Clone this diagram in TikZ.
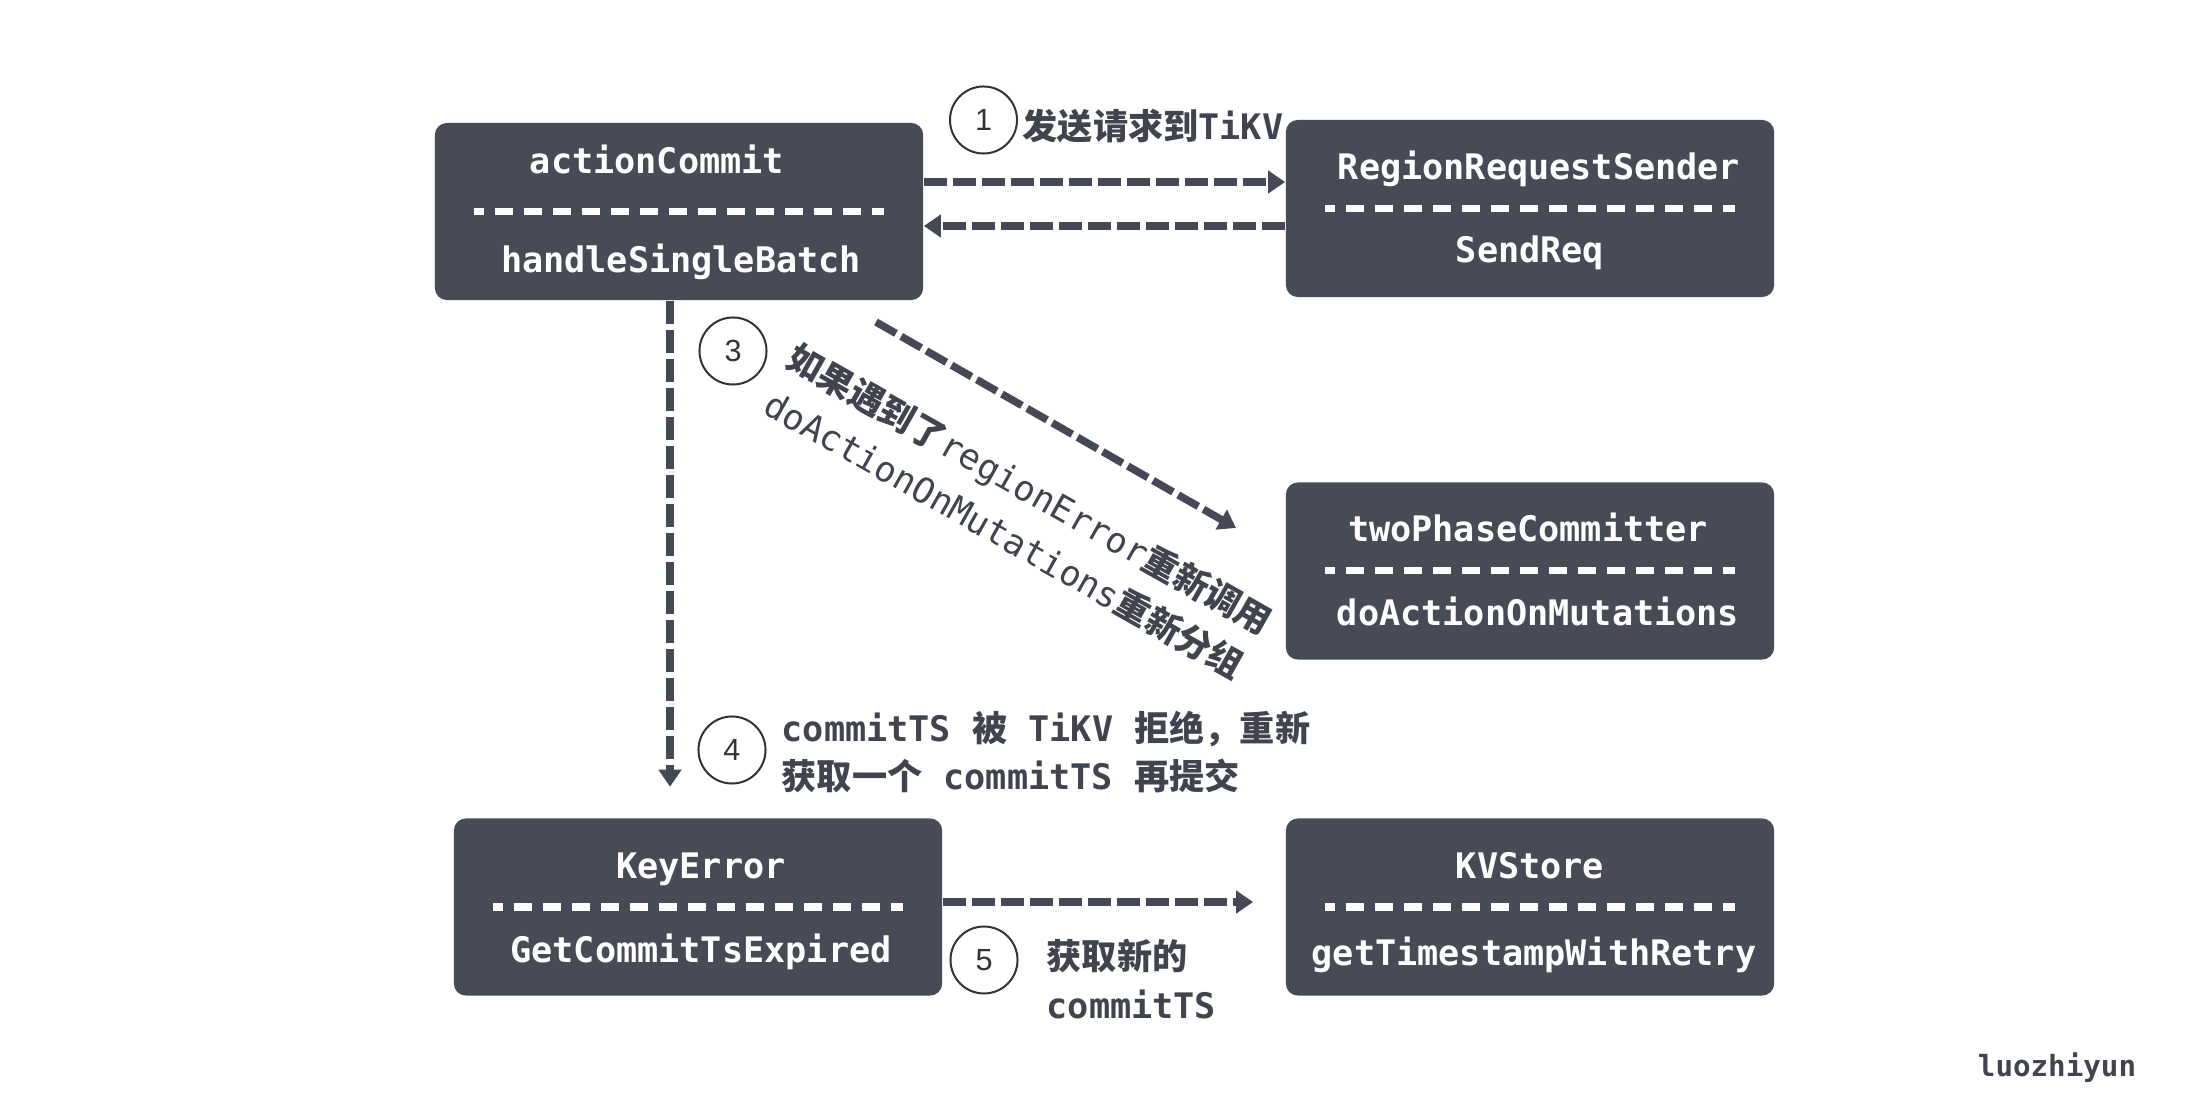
\documentclass[tikz,border=0pt]{standalone}
\usepackage{fontspec}
\usetikzlibrary{arrows.meta,calc}
\newfontfamily\mono{DejaVu Sans Mono}
\newfontfamily\cjk{Noto Sans CJK SC}
\newfontfamily\numfont{Liberation Sans}
\newcommand\zh[1]{{\cjk\bfseries #1}}
\definecolor{boxc}{HTML}{474B56}
\definecolor{arrc}{HTML}{454955}
\definecolor{txtc}{HTML}{40444E}
\definecolor{circc}{HTML}{333333}
\begin{document}
\begin{tikzpicture}[x=0.01cm,y=-0.01cm,
  box/.style={fill=boxc, rounded corners=0.12cm, minimum width=4.88cm, minimum height=1.77cm, inner sep=0pt},
  boxtxt/.style={text=white, font=\mono\bfseries\fontsize{10}{12}\selectfont, anchor=base, inner sep=0pt},
  sepline/.style={white, line width=0.07cm, dash pattern=on 0.18cm off 0.11cm, dash phase=0.08cm},
  arr/.style={arrc, line width=0.075cm, dash pattern=on 0.23cm off 0.06cm, -{Triangle[length=0.17cm,width=0.22cm]}},
  num/.style={circle, draw=circc, line width=0.02cm, minimum size=0.67cm, inner sep=0pt, font=\numfont\fontsize{8.7}{10}\selectfont, text=circc},
  lbl/.style={text=txtc, inner sep=0pt, font=\mono\bfseries\fontsize{10}{13.9}\selectfont}
]
\fill[white] (0,0) rectangle (2187,1113);
\useasboundingbox (0,0) rectangle (2187,1113);

% boxes
\node[box] (ac) at (679,211.5) {};
\node[box] (rr) at (1530,208.5) {};
\node[box] (tp) at (1530,571) {};
\node[box] (ke) at (698,907) {};
\node[box] (kv) at (1530,907) {};

% separators
\foreach \b in {ac,rr,tp,ke,kv}
  \draw[sepline] ($(\b.west)+(40,0)$) -- ($(\b.east)+(-40,0)$);

% box texts
\node[boxtxt] (ac1) at (657,174) {actionCommit};
\node[boxtxt] (ac2) at (681,273) {handleSingleBatch};
\node[boxtxt] (rr1) at (1539,180) {RegionRequestSender};
\node[boxtxt] (rr2) at (1530,263) {SendReq};
\node[boxtxt] (tp1) at (1528,542) {twoPhaseCommitter};
\node[boxtxt] (tp2) at (1538,626) {doActionOnMutations};
\node[boxtxt] (ke1) at (701,879) {KeyError};
\node[boxtxt] (ke2) at (701,962) {GetCommitTsExpired};
\node[boxtxt] (kv1) at (1530,879) {KVStore};
\node[boxtxt] (kv2) at (1534,966) {getTimestampWithRetry};

% arrows
\draw[arr] ($(ac.east)+(0,-29.5)$) -- ($(rr.west)+(0,-26.5)$);
\draw[arr] ($(rr.west)+(0,17.5)$) -- ($(ac.east)+(0,14.5)$);
\draw[arr] ($(ac.south)+(-9,0)$) -- ($(ke.north)+(-28,-31)$);
\coordinate (d1) at (876,322);
\coordinate (d2) at (1236,528);
\draw[arr] (d1) -- (d2);
\draw[arr] ($(ke.east)+(0,-5)$) -- ($(kv.west)+(-32,-5)$);

% step numbers
\node[num] (n1) at (983.5,120) {1};
\node[num] (n3) at (733,351) {3};
\node[num] (n4) at (732,750) {4};
\node[num] (n5) at (984,960) {5};

% labels
\node[lbl, anchor=center] (l1) at (1153,126) {\zh{发送请求到}TiKV};
\node[lbl, font=\mono\fontsize{10}{14.8}\selectfont, align=center, rotate=-29.5] (l3) at (1017,512)
  {\zh{如果遇到了}regionError\zh{重新调用}\\doActionOnMutations\zh{重新分组}};
\node[lbl, anchor=west, align=left] (l4) at (781,752)
  {commitTS \zh{被} TiKV \zh{拒绝，重新}\\\zh{获取一个} commitTS \zh{再提交}};
\node[lbl, anchor=west, align=left] (l5) at (1046,979) {\zh{获取新的}\\commitTS};

\node[text=txtc, inner sep=0pt, font=\mono\bfseries\fontsize{8.3}{10}\selectfont] (wm) at (2057,1068) {luozhiyun};
\end{tikzpicture}
\end{document}
